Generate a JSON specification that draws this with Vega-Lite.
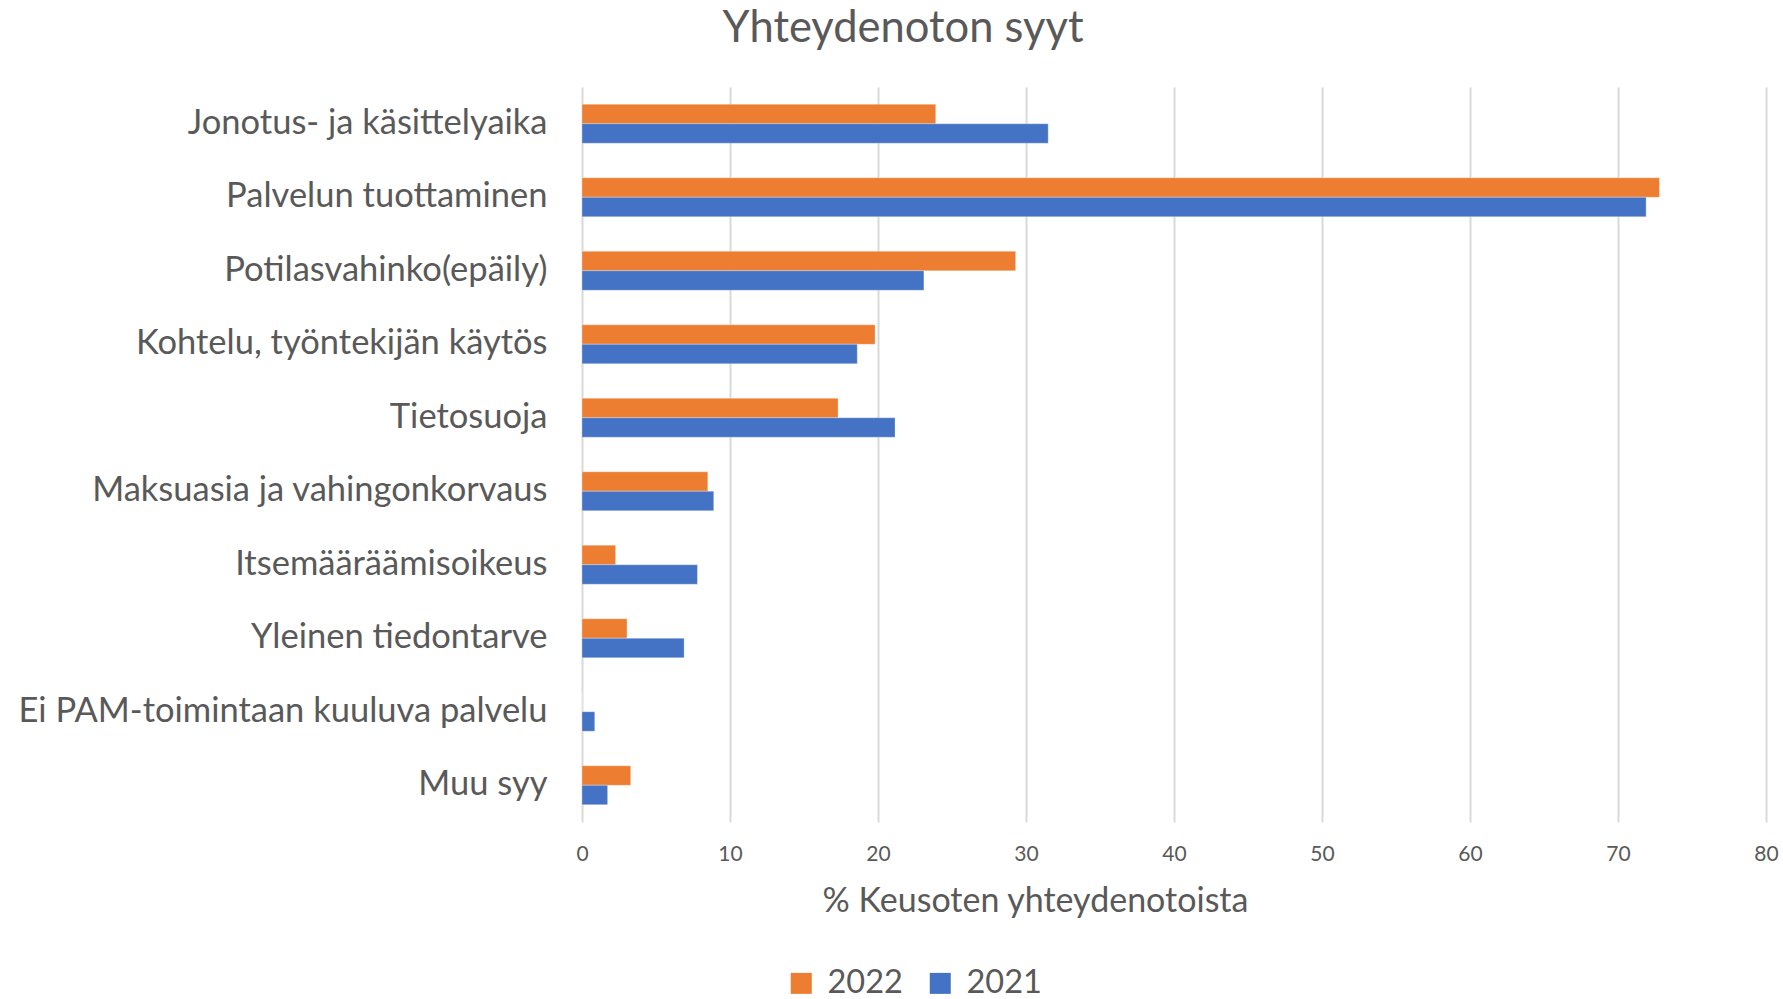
{
  "$schema": "https://vega.github.io/schema/vega-lite/v6.json",
  "autosize": {"type": "none"},
  "width": 1184,
  "height": 735,
  "padding": {"left": 582, "top": 87, "right": 17, "bottom": 177},
  "background": "white",
  "title": {
    "text": "Yhteydenoton syyt",
    "font": "Lato",
    "fontSize": 43.5,
    "fontWeight": "normal",
    "color": "#595959",
    "anchor": "middle",
    "dx": -271,
    "offset": 36
  },
  "data": {
    "values": [
      {"syy": "Jonotus- ja käsittelyaika", "vuosi": "2022", "arvo": 23.9},
      {"syy": "Jonotus- ja käsittelyaika", "vuosi": "2021", "arvo": 31.5},
      {"syy": "Palvelun tuottaminen", "vuosi": "2022", "arvo": 72.8},
      {"syy": "Palvelun tuottaminen", "vuosi": "2021", "arvo": 71.9},
      {"syy": "Potilasvahinko(epäily)", "vuosi": "2022", "arvo": 29.3},
      {"syy": "Potilasvahinko(epäily)", "vuosi": "2021", "arvo": 23.1},
      {"syy": "Kohtelu, työntekijän käytös", "vuosi": "2022", "arvo": 19.8},
      {"syy": "Kohtelu, työntekijän käytös", "vuosi": "2021", "arvo": 18.6},
      {"syy": "Tietosuoja", "vuosi": "2022", "arvo": 17.3},
      {"syy": "Tietosuoja", "vuosi": "2021", "arvo": 21.15},
      {"syy": "Maksuasia ja vahingonkorvaus", "vuosi": "2022", "arvo": 8.5},
      {"syy": "Maksuasia ja vahingonkorvaus", "vuosi": "2021", "arvo": 8.9},
      {"syy": "Itsemääräämisoikeus", "vuosi": "2022", "arvo": 2.27},
      {"syy": "Itsemääräämisoikeus", "vuosi": "2021", "arvo": 7.8},
      {"syy": "Yleinen tiedontarve", "vuosi": "2022", "arvo": 3.04},
      {"syy": "Yleinen tiedontarve", "vuosi": "2021", "arvo": 6.9},
      {"syy": "Ei PAM-toimintaan kuuluva palvelu", "vuosi": "2022", "arvo": 0},
      {"syy": "Ei PAM-toimintaan kuuluva palvelu", "vuosi": "2021", "arvo": 0.86},
      {"syy": "Muu syy", "vuosi": "2022", "arvo": 3.29},
      {"syy": "Muu syy", "vuosi": "2021", "arvo": 1.73}
    ]
  },
  "mark": {"type": "bar", "stroke": "white", "strokeWidth": 0.6, "strokeOpacity": 0.5},
  "encoding": {
    "y": {
      "field": "syy",
      "type": "nominal",
      "sort": null,
      "scale": {"paddingInner": 0.47, "paddingOuter": 0.235},
      "axis": {
        "title": null,
        "domain": false,
        "ticks": false,
        "grid": false,
        "labelFont": "Lato",
        "labelFontSize": 34.5,
        "labelColor": "#595959",
        "labelPadding": 35,
        "labelLimit": 700
      }
    },
    "yOffset": {
      "field": "vuosi",
      "type": "nominal",
      "scale": {"domain": ["2022", "2021"], "paddingInner": 0, "paddingOuter": 0}
    },
    "x": {
      "field": "arvo",
      "type": "quantitative",
      "scale": {"domain": [0, 80], "nice": false, "zero": true},
      "axis": {
        "values": [0, 10, 20, 30, 40, 50, 60, 70, 80],
        "title": "% Keusoten yhteydenotoista",
        "titleFont": "Lato",
        "titleFontSize": 34,
        "titleFontWeight": "normal",
        "titleColor": "#595959",
        "titleX": 453,
        "titleAnchor": "middle",
        "titleAlign": "center",
        "titlePadding": 20,
        "domain": false,
        "ticks": false,
        "grid": true,
        "gridColor": "#D9D9D9",
        "gridWidth": 2,
        "labelFont": "Lato",
        "labelFontSize": 21,
        "labelColor": "#595959",
        "labelPadding": 21,
        "labelFlush": false
      }
    },
    "color": {
      "field": "vuosi",
      "type": "nominal",
      "scale": {"domain": ["2022", "2021"], "range": ["#ED7D31", "#4472C4"]},
      "legend": {
        "title": null,
        "orient": "none",
        "direction": "horizontal",
        "legendX": 203,
        "legendY": 880,
        "symbolType": "square",
        "symbolSize": 441,
        "symbolStrokeWidth": 0,
        "labelFont": "Lato",
        "labelFontSize": 32.5,
        "labelColor": "#595959",
        "labelOffset": 10,
        "columnPadding": 21
      }
    }
  },
  "config": {"view": {"stroke": null}}
}
